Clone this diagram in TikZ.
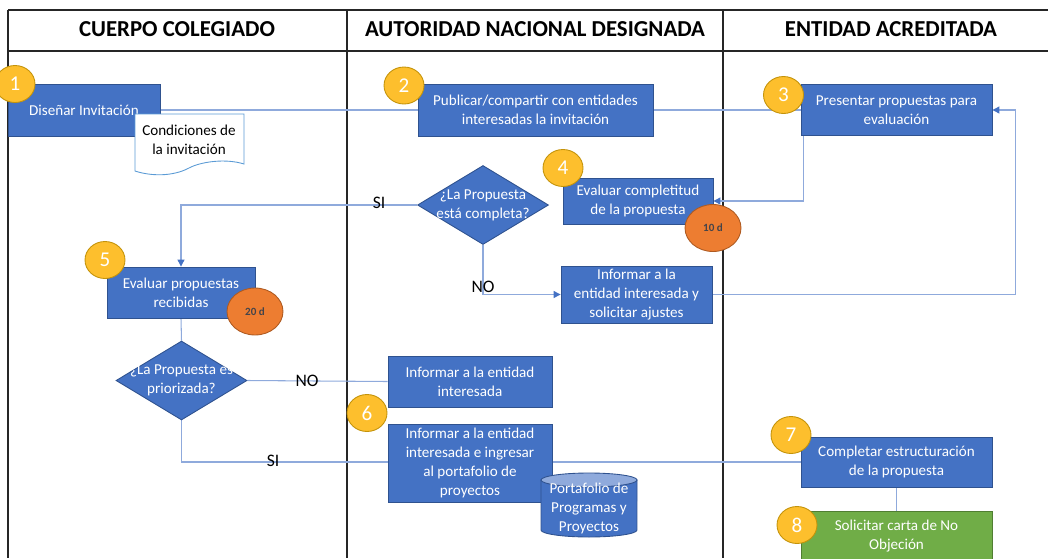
\documentclass[tikz,border=0pt]{standalone}
\usepackage{fontspec}
\setmainfont{Carlito}
\usetikzlibrary{shapes.geometric,arrows.meta,backgrounds}
\definecolor{boxblue}{HTML}{4472C4}
\definecolor{boxline}{HTML}{2F528F}
\definecolor{flowblue}{HTML}{8FAADC}
\definecolor{cyltop}{HTML}{8FAADC}
\definecolor{badge}{HTML}{FDBF2D}
\definecolor{badgeline}{HTML}{C4930A}
\definecolor{days}{HTML}{ED7D31}
\definecolor{daysline}{HTML}{AE5A21}
\definecolor{daystext}{HTML}{44444A}
\definecolor{okgreen}{HTML}{70AD47}
\definecolor{okline}{HTML}{507E32}
\definecolor{docline}{HTML}{5B9BD5}
\newcommand{\boxfont}{\fontsize{8.6}{10.7}\selectfont}
\tikzset{
  task/.style={draw=boxline, fill=boxblue, text=white, align=center, font=\boxfont, inner sep=1pt, line width=0.5pt},
  ask/.style={diamond, draw=boxline, fill=boxblue, text=white, align=center, font=\boxfont, inner sep=-3pt, aspect=1.66, minimum width=2.62cm, minimum height=1.58cm, line width=0.5pt},
  num/.style={ellipse, draw=badgeline, fill=badge, text=white, font=\fontsize{12}{13}\selectfont, minimum width=0.8cm, minimum height=0.74cm, inner sep=0pt, line width=0.5pt},
  days/.style={ellipse, draw=daysline, fill=days, text=daystext, font=\bfseries\fontsize{6.3}{7}\selectfont, minimum width=1.12cm, minimum height=0.94cm, inner sep=0pt, line width=0.5pt},
  flow/.style={draw=flowblue, line width=0.6pt},
  arrow/.style={flow, -{Triangle[length=4pt,width=4pt,color=boxblue]}},
  lbl/.style={font=\fontsize{10}{12}\selectfont, inner sep=0pt},
  head/.style={font=\bfseries\fontsize{13}{15}\selectfont},
  grid/.style={draw=black!85, line width=0.8pt}
}
\begin{document}
\begin{tikzpicture}[x=0.02cm,y=-0.02cm]
  \useasboundingbox (0,0) rectangle (1048,558);
  \node[head] (h1) at (177,29.5) {CUERPO COLEGIADO};
  \node[head] (h2) at (535,29.5) {AUTORIDAD NACIONAL DESIGNADA};
  \node[head] (h3) at (891,29.5) {ENTIDAD ACREDITADA};

  \node[task, minimum width=3.04cm, minimum height=1.04cm] (p1) at (84,110) {Diseñar Invitación};
  \node[task, minimum width=4.7cm, minimum height=1.04cm] (p2) at (535.5,110) {Publicar/compartir con entidades\\interesadas la invitación};
  \node[task, minimum width=3.82cm, minimum height=1.02cm] (p3) at (896.5,110) {Presentar propuestas para\\evaluación};
  \node[task, minimum width=3cm, minimum height=0.92cm] (p4) at (638,201) {Evaluar completitud\\de la propuesta};
  \node[ask] (q1) at (483,205) {¿La Propuesta\\está completa?};
  \node[task, minimum width=3.02cm, minimum height=1.14cm] (p4b) at (636.5,294.5) {Informar a la\\entidad interesada y\\solicitar ajustes};
  \node[task, minimum width=2.96cm, minimum height=1.02cm] (p5) at (181,292.5) {Evaluar propuestas\\recibidas};
  \node[ask] (q2) at (181.5,380.5) {¿La Propuesta es\\priorizada?};
  \node[task, minimum width=3.28cm, minimum height=1.02cm] (p6a) at (470,381.5) {Informar a la entidad\\interesada};
  \node[task, minimum width=3.28cm, minimum height=1.56cm] (p6b) at (470,463) {Informar a la entidad\\interesada e ingresar\\al portafolio de\\proyectos};
  \node[task, minimum width=3.82cm, minimum height=1cm] (p7) at (896.5,462) {Completar estructuración\\de la propuesta};
  \node[task, fill=okgreen, draw=okline, minimum width=3.82cm, minimum height=1cm] (p8) at (896.5,536) {Solicitar carta de No\\Objeción};

  \draw[draw=docline, fill=white, line width=0.5pt] (135,114) -- (244,114) -- (244,164)
    .. controls (225,158) and (200,162) .. (189,168)
    .. controls (172,177) and (150,176) .. (135,171) -- cycle;
  \node[font=\boxfont, align=center] (doc) at (189,139.5) {Condiciones de\\la invitación};

  \draw[draw=boxline, fill=boxblue, line width=0.5pt] (541,480) -- (541,530)
    arc[start angle=180, end angle=360, x radius=0.96cm, y radius=0.14cm] -- (637,480) -- cycle;
  \draw[draw=boxline, fill=cyltop, line width=0.5pt] (589,480) ellipse [x radius=0.96cm, y radius=0.14cm];
  \node[font=\boxfont, text=white, align=center] (pp) at (589,508.5) {Portafolio de\\Programas y\\Proyectos};

  \node[days] (t4) at (713,228) {10 d};
  \node[days] (t5) at (255,311.5) {20 d};

  \node[num] (n1) at (15,84) {1};
  \node[num] (n2) at (404,85.5) {2};
  \node[num] (n3) at (783.5,95) {3};
  \node[num] (n4) at (563,168) {4};
  \node[num] (n5) at (105,260) {5};
  \node[num] (n6) at (367,413) {6};
  \node[num] (n7) at (791,435) {7};
  \node[num] (n8) at (797,525) {8};

  \node[lbl] (si1) at (379,203) {SI};
  \node[lbl] (no1) at (483,287) {NO};
  \node[lbl] (no2) at (307,381) {NO};
  \node[lbl] (si2) at (273,461) {SI};

  \begin{pgfonlayer}{background}
    \draw[grid] (8,10) -- (1048,10) (8,51) -- (1048,51)
      (8,10) -- (8,558) (347,10) -- (347,558) (723,10) -- (723,558);
    \draw[flow] (p1.east) -- (p3.west);
    \draw[arrow] ([xshift=0.06cm]p3.south west) |- (p4.east);
    \draw[arrow] (p4b.east) -- ++(303,0) |- (p3.east);
    \draw[arrow] (q1.west) -| (p5.north);
    \draw[arrow] (q1.south) |- (p4b.west);
    \draw[flow] (p5.south) -- (q2.north);
    \draw[flow] (q2.east) -- (p6a.west);
    \draw[flow] (q2.south) |- (p7.west);
    \draw[flow] (p7.south) -- (p8.north);
  \end{pgfonlayer}
\end{tikzpicture}
\end{document}
